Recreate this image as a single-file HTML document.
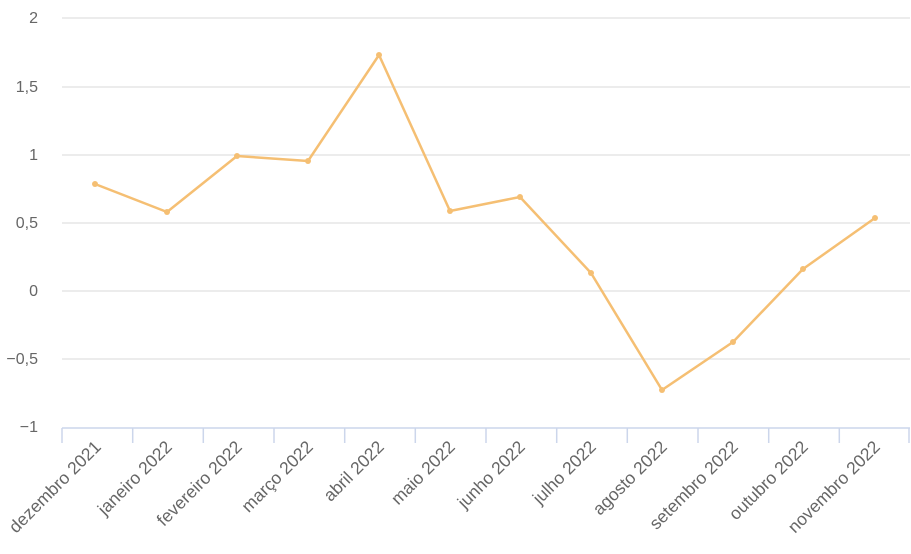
<!DOCTYPE html>
<html><head><meta charset="utf-8"><style>
html,body{margin:0;padding:0;background:#fff;}
svg{display:block;font-family:"Liberation Sans",sans-serif;}
</style></head><body>
<svg width="911" height="554" viewBox="0 0 911 554" xmlns="http://www.w3.org/2000/svg">
<g stroke="#e6e6e6" stroke-width="1.5">
<line x1="62" x2="910" y1="18" y2="18"/>
<line x1="62" x2="910" y1="87" y2="87"/>
<line x1="62" x2="910" y1="155" y2="155"/>
<line x1="62" x2="910" y1="223" y2="223"/>
<line x1="62" x2="910" y1="291" y2="291"/>
<line x1="62" x2="910" y1="359" y2="359"/>
</g>
<g stroke="#ccd6eb" stroke-width="1.5">
<line x1="62" x2="910" y1="428" y2="428"/>
<line x1="62" x2="62" y1="428" y2="443"/>
<line x1="132.7" x2="132.7" y1="428" y2="443"/>
<line x1="203.3" x2="203.3" y1="428" y2="443"/>
<line x1="274" x2="274" y1="428" y2="443"/>
<line x1="344.7" x2="344.7" y1="428" y2="443"/>
<line x1="415.3" x2="415.3" y1="428" y2="443"/>
<line x1="486" x2="486" y1="428" y2="443"/>
<line x1="556.7" x2="556.7" y1="428" y2="443"/>
<line x1="627.3" x2="627.3" y1="428" y2="443"/>
<line x1="698" x2="698" y1="428" y2="443"/>
<line x1="768.7" x2="768.7" y1="428" y2="443"/>
<line x1="839.3" x2="839.3" y1="428" y2="443"/>
<line x1="909" x2="909" y1="428" y2="443"/>
</g>
<g fill="#666" font-size="16" text-anchor="end">
<text x="38" y="23">2</text>
<text x="38" y="92">1,5</text>
<text x="38" y="160">1</text>
<text x="38" y="228">0,5</text>
<text x="38" y="296">0</text>
<text x="38" y="364">−0,5</text>
<text x="38" y="432">−1</text>
</g>
<g fill="#666" font-size="17.5" text-anchor="end">
<text transform="translate(102,448) rotate(-45)">dezembro 2021</text>
<text transform="translate(173,448) rotate(-45)">janeiro 2022</text>
<text transform="translate(243,448) rotate(-45)">fevereiro 2022</text>
<text transform="translate(314,448) rotate(-45)">março 2022</text>
<text transform="translate(385,448) rotate(-45)">abril 2022</text>
<text transform="translate(456,448) rotate(-45)">maio 2022</text>
<text transform="translate(526,448) rotate(-45)">junho 2022</text>
<text transform="translate(597,448) rotate(-45)">julho 2022</text>
<text transform="translate(668,448) rotate(-45)">agosto 2022</text>
<text transform="translate(739,448) rotate(-45)">setembro 2022</text>
<text transform="translate(809,448) rotate(-45)">outubro 2022</text>
<text transform="translate(881,448) rotate(-45)">novembro 2022</text>
</g>
<polyline fill="none" stroke="#f5bf73" stroke-width="2.5" stroke-linejoin="round" points="95,184 167,212 237,156 308,161 379,55 450,211 520,197 591,273 662,390 733,342 803,269 875,218"/>
<g fill="#f5bf73">
<circle cx="95" cy="184" r="3"/><circle cx="167" cy="212" r="3"/><circle cx="237" cy="156" r="3"/><circle cx="308" cy="161" r="3"/><circle cx="379" cy="55" r="3"/><circle cx="450" cy="211" r="3"/><circle cx="520" cy="197" r="3"/><circle cx="591" cy="273" r="3"/><circle cx="662" cy="390" r="3"/><circle cx="733" cy="342" r="3"/><circle cx="803" cy="269" r="3"/><circle cx="875" cy="218" r="3"/>
</g>
</svg>
</body></html>
